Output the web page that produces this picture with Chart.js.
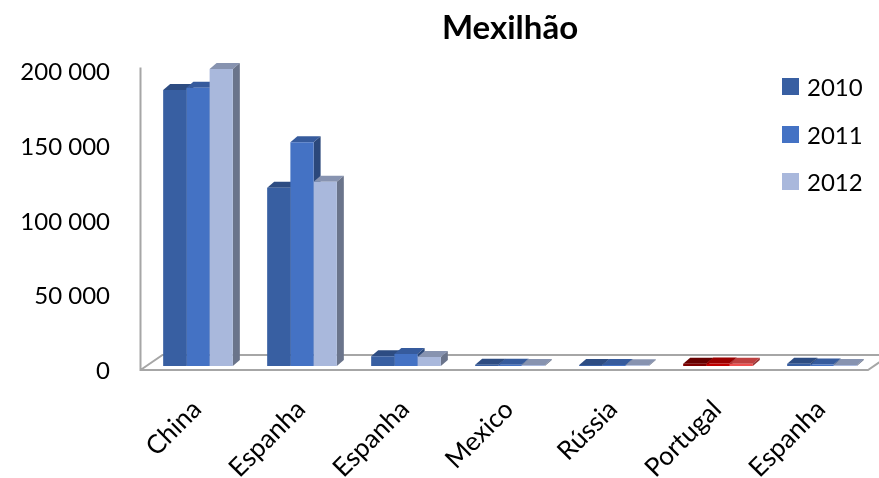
<!DOCTYPE html>
<html>
<head>
<meta charset="utf-8">
<title>Mexilhão</title>
<script src="https://cdn.jsdelivr.net/npm/chart.js@4.4.1/dist/chart.umd.min.js"></script>
<style>
  html, body { margin: 0; padding: 0; background: #fff; }
  .wrap { position: relative; width: 879px; height: 478px; }
  .legend { position: absolute; left: 782px; top: 63px; font-family: Lato, sans-serif; font-size: 24px; color: #000; }
  .legend .item { height: 47.5px; display: flex; align-items: center; }
  .legend .box { width: 17px; height: 17px; margin-right: 8px; }
</style>
</head>
<body>
<div class="wrap">
  <canvas id="chart" width="879" height="478"></canvas>
  <div class="legend" id="legend"></div>
</div>
<script>
const categories = ["China", "Espanha", "Espanha", "Mexico", "Rússia", "Portugal", "Espanha"];
const years = ["2010", "2011", "2012"];

const values2010 = [185000, 119500, 6500, 800, 600, 1500, 1500];
const values2011 = [186500, 150000, 8000, 900, 600, 1600, 1000];
const values2012 = [199000, 123500, 6000, 700, 500, 1500, 600];

const yTicks = [0, 50000, 100000, 150000, 200000];

// front colours; Portugal is highlighted in red
const blues = ["#385fa2", "#4472c4", "#a9b8dc"];
const reds = ["#7f0000", "#c00000", "#ee5050"];

const depthX = 7;
const depthY = -6;

function shade(hex, f) {
    const n = parseInt(hex.slice(1), 16);
    const r = Math.round(((n >> 16) & 255) * f);
    const g = Math.round(((n >> 8) & 255) * f);
    const b = Math.round((n & 255) * f);
    return "rgb(" + r + "," + g + "," + b + ")";
}

function colorsFor(i) {
    return categories.map((c) => c === "Portugal" ? reds[i] : blues[i]);
}

function formatThousands(v) {
    return String(v).replace(/\B(?=(\d{3})+(?!\d))/g, " ");
}

// floor, wall edge and the top/side faces of each bar, painted under the fronts
const bars3d = {
    id: "bars3d",
    beforeDatasetsDraw(chart) {
        const ctx = chart.ctx;
        const area = chart.chartArea;
        const yScale = chart.scales.y;
        const zeroY = yScale.getPixelForValue(0);

        ctx.save();
        ctx.strokeStyle = "#a6a6a6";
        ctx.lineWidth = 2;

        const fx0 = area.left - 5.5;
        const fx1 = area.right - 6;
        const fy = zeroY + 4;
        ctx.beginPath();
        ctx.moveTo(fx0, yScale.getPixelForValue(200000));
        ctx.lineTo(fx0, fy);
        ctx.lineTo(fx1, fy);
        ctx.lineTo(fx1 + 22, fy - 15);
        ctx.moveTo(fx0, fy);
        ctx.lineTo(fx0 + 22, fy - 15);
        ctx.lineTo(chart.width + 10, fy - 15);
        ctx.stroke();

        chart.data.datasets.forEach((ds, i) => {
            const meta = chart.getDatasetMeta(i);
            meta.data.forEach((bar) => {
                const p = bar.getProps(["x", "y", "base", "width"], true);
                const left = p.x - p.width / 2;
                const right = p.x + p.width / 2;
                const col = bar.options.backgroundColor;

                ctx.fillStyle = shade(col, 0.8);
                ctx.beginPath();
                ctx.moveTo(left, p.y);
                ctx.lineTo(left + depthX, p.y + depthY);
                ctx.lineTo(right + depthX, p.y + depthY);
                ctx.lineTo(right, p.y);
                ctx.closePath();
                ctx.fill();

                ctx.fillStyle = shade(col, 0.63);
                ctx.beginPath();
                ctx.moveTo(right, p.y);
                ctx.lineTo(right + depthX, p.y + depthY);
                ctx.lineTo(right + depthX, p.base + depthY);
                ctx.lineTo(right, p.base);
                ctx.closePath();
                ctx.fill();
            });
        });
        ctx.restore();
    }
};

const chart = new Chart(document.getElementById("chart"), {
    type: "bar",
    data: {
        labels: categories,
        datasets: [
            { label: years[0], data: values2010, backgroundColor: colorsFor(0) },
            { label: years[1], data: values2011, backgroundColor: colorsFor(1) },
            { label: years[2], data: values2012, backgroundColor: colorsFor(2) }
        ]
    },
    options: {
        responsive: false,
        animation: false,
        layout: { padding: { left: 0, right: 5, top: 0, bottom: 0 } },
        datasets: {
            bar: { categoryPercentage: 0.67, barPercentage: 1, borderWidth: 0 }
        },
        plugins: {
            legend: { display: false },
            tooltip: { enabled: false },
            title: {
                display: true,
                text: "Mexilhão",
                fullSize: false,
                color: "#000",
                font: { family: "Lato", size: 33, weight: "bold" },
                padding: { top: 9, bottom: 19 }
            }
        },
        scales: {
            x: {
                grid: { display: false },
                border: { display: false },
                ticks: {
                    color: "#000",
                    font: { family: "Lato", size: 26 },
                    minRotation: 45,
                    maxRotation: 45,
                    autoSkip: false,
                    padding: 20,
                    labelOffset: -1
                },
                afterFit(scale) { scale.height = 112; }
            },
            y: {
                min: 0,
                max: 200000,
                grid: { display: false, drawTicks: false },
                border: { display: false },
                afterBuildTicks(scale) { scale.ticks = yTicks.map((v) => ({ value: v })); },
                ticks: {
                    color: "#000",
                    font: { family: "Lato", size: 24 },
                    padding: 36,
                    labelOffset: 5,
                    callback: (v) => formatThousands(v)
                },
                afterFit(scale) { scale.width = 146; }
            }
        }
    },
    plugins: [bars3d]
});

// legend built from the datasets
const legendBox = document.getElementById("legend");
chart.data.datasets.forEach((ds) => {
    const item = document.createElement("div");
    item.className = "item";
    const box = document.createElement("span");
    box.className = "box";
    box.style.background = ds.backgroundColor[0];
    const txt = document.createElement("span");
    txt.textContent = ds.label;
    item.appendChild(box);
    item.appendChild(txt);
    legendBox.appendChild(item);
});
</script>
</body>
</html>
